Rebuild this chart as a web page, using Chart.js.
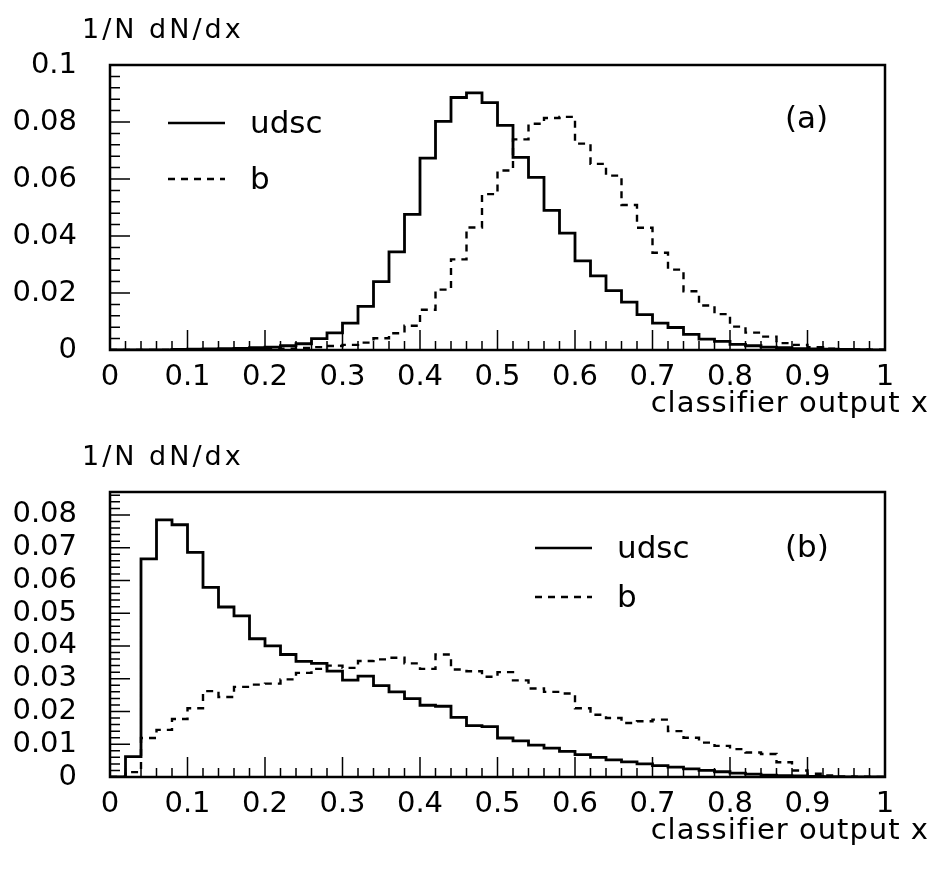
<!DOCTYPE html>
<html>
<head>
<meta charset="utf-8">
<script src="https://cdn.jsdelivr.net/npm/chart.js@4.4.1/dist/chart.umd.min.js"></script>
<style>
  html, body { margin: 0; padding: 0; background: #fff; }
  #wrap { position: relative; width: 937px; height: 875px; }
  canvas { position: absolute; left: 0; }
</style>
</head>
<body>
<div id="wrap">
  <canvas id="panelA" width="937" height="437" style="top:0"></canvas>
  <canvas id="panelB" width="937" height="438" style="top:437px"></canvas>
</div>
<script>
// histogram bins of width 0.02 on [0,1]
const binWidth = 0.02;

// panel (a)
const udscA = [0, 0, 0, 0, 0.0002, 0.0003, 0.0004, 0.0005, 0.0006, 0.0008,
  0.001, 0.0015, 0.0022, 0.004, 0.006, 0.0094, 0.0153, 0.024, 0.0344, 0.0476,
  0.0673, 0.0802, 0.0886, 0.0902, 0.0868, 0.0788, 0.0676, 0.0606, 0.049, 0.041,
  0.0313, 0.026, 0.0208, 0.0168, 0.0124, 0.0094, 0.0079, 0.0055, 0.0038, 0.003,
  0.002, 0.0015, 0.001, 0.0008, 0.0005, 0.0004, 0.0003, 0.0002, 0.0001, 0];
const bA = [0, 0, 0, 0, 0, 0, 0, 0, 0.0001, 0.0002,
  0.0003, 0.0005, 0.0007, 0.001, 0.0014, 0.0018, 0.0026, 0.0041, 0.0059, 0.0085,
  0.0141, 0.0212, 0.0318, 0.043, 0.0547, 0.063, 0.0739, 0.0794, 0.0814, 0.0818,
  0.0724, 0.0653, 0.0612, 0.0509, 0.0429, 0.0341, 0.0282, 0.0206, 0.0156, 0.0126,
  0.0082, 0.0061, 0.0047, 0.0024, 0.0018, 0.001, 0.0005, 0.0003, 0.0002, 0.0001];

// panel (b)
const udscB = [0, 0.0062, 0.0666, 0.0785, 0.077, 0.0686, 0.0579, 0.0519, 0.0492, 0.0422,
  0.04, 0.0374, 0.0353, 0.0347, 0.0323, 0.0296, 0.0308, 0.0279, 0.026, 0.0239,
  0.0219, 0.0216, 0.0182, 0.0157, 0.0154, 0.0119, 0.011, 0.0097, 0.0088, 0.0078,
  0.0068, 0.006, 0.0052, 0.0046, 0.004, 0.0035, 0.003, 0.0025, 0.002, 0.0016,
  0.0012, 0.0009, 0.0006, 0.0004, 0.0003, 0.0002, 0.0001, 0, 0, 0];
const bB = [0, 0.0015, 0.0119, 0.0144, 0.0177, 0.021, 0.0262, 0.0244, 0.0275, 0.0282,
  0.0285, 0.0298, 0.0318, 0.033, 0.034, 0.0333, 0.0354, 0.0359, 0.0364, 0.0347,
  0.033, 0.0374, 0.0328, 0.0323, 0.0306, 0.032, 0.0295, 0.027, 0.026, 0.0255,
  0.021, 0.019, 0.018, 0.0165, 0.017, 0.0175, 0.014, 0.012, 0.0105, 0.0095,
  0.0085, 0.0075, 0.007, 0.0045, 0.002, 0.001, 0.0005, 0.0002, 0.0001, 0];

// axes
const xTicks = [0, 0.1, 0.2, 0.3, 0.4, 0.5, 0.6, 0.7, 0.8, 0.9, 1];
const xTickLabels = ["0", "0.1", "0.2", "0.3", "0.4", "0.5", "0.6", "0.7", "0.8", "0.9", "1"];
const yTicksA = [0, 0.02, 0.04, 0.06, 0.08, 0.1];
const yTickLabelsA = ["0", "0.02", "0.04", "0.06", "0.08", "0.1"];
const yTicksB = [0, 0.01, 0.02, 0.03, 0.04, 0.05, 0.06, 0.07, 0.08];
const yTickLabelsB = ["0", "0.01", "0.02", "0.03", "0.04", "0.05", "0.06", "0.07", "0.08"];
const seriesNames = ["udsc", "b"];

const FONT = '"DejaVu Sans", sans-serif';

// bin contents -> points at left bin edges, closed at x = 1
function histPoints(vals) {
  const pts = [{ x: 0, y: 0 }];
  vals.forEach((v, i) => pts.push({ x: i * binWidth, y: v }));
  pts.push({ x: 1, y: vals[vals.length - 1] });
  return pts;
}

function minorTicks(step, max) {
  const out = [];
  for (let i = 1; i * step < max + 1e-9; i++) out.push(+(i * step).toFixed(4));
  return out;
}

// frame, inward ticks, labels and legend
const extras = {
  id: "extras",
  afterDraw(chart, args, o) {
    const { ctx, chartArea: a } = chart;
    const x = chart.scales.x, y = chart.scales.y;
    ctx.save();
    ctx.strokeStyle = "#000";
    ctx.lineWidth = 1.5;
    ctx.beginPath();
    minorTicks(0.02, 1).forEach(v => {
      const px = x.getPixelForValue(v);
      ctx.moveTo(px, a.bottom); ctx.lineTo(px, a.bottom - 9);
    });
    xTicks.forEach(v => {
      const px = x.getPixelForValue(v);
      ctx.moveTo(px, a.bottom); ctx.lineTo(px, a.bottom - 20);
    });
    minorTicks(o.yMinor, y.max).forEach(v => {
      const py = y.getPixelForValue(v);
      ctx.moveTo(a.left, py); ctx.lineTo(a.left + 10, py);
    });
    o.yMajor.forEach(v => {
      const py = y.getPixelForValue(v);
      ctx.moveTo(a.left, py); ctx.lineTo(a.left + 20, py);
    });
    ctx.stroke();

    ctx.lineWidth = 2.5;
    ctx.strokeRect(a.left, a.top, a.width, a.height);

    ctx.fillStyle = "#000";
    ctx.textBaseline = "alphabetic";
    ctx.font = "27px " + FONT;
    ctx.letterSpacing = "3px";
    ctx.fillText("1/N dN/dx", 82, a.top - 27);

    ctx.font = "29px " + FONT;
    ctx.letterSpacing = "1px";
    ctx.textAlign = "right";
    ctx.fillText("classifier output x", 929, a.bottom + 62);

    ctx.textAlign = "left";
    ctx.letterSpacing = "0px";
    ctx.font = "31px " + FONT;
    const L = o.legend;
    chart.data.datasets.forEach((ds, i) => {
      const ly = L.y + i * L.gap;
      ctx.lineWidth = 2.5;
      ctx.setLineDash(ds.borderDash || []);
      ctx.beginPath();
      ctx.moveTo(L.x, ly); ctx.lineTo(L.x + 57, ly);
      ctx.stroke();
      ctx.setLineDash([]);
      ctx.fillText(ds.label, L.x + 82, ly + 10);
    });
    ctx.fillText(o.tag, 785, a.top + o.tagDy);
    ctx.restore();
  }
};

function makePanel(id, udsc, b, yMax, yTicks, yLabels, yMinor, tag, legend, tagDy, canvasH, plotBottom) {
  return new Chart(document.getElementById(id), {
    type: "line",
    data: {
      datasets: [
        {
          label: seriesNames[0],
          data: histPoints(udsc),
          borderColor: "#000",
          borderWidth: 2.8,
          stepped: "before",
          pointRadius: 0,
          fill: false,
        },
        {
          label: seriesNames[1],
          data: histPoints(b),
          borderColor: "#000",
          borderWidth: 2.4,
          borderDash: [7, 6],
          stepped: "before",
          pointRadius: 0,
          fill: false,
        },
      ],
    },
    options: {
      responsive: false,
      animation: false,
      devicePixelRatio: 1,
      layout: { padding: { left: 0, right: 52, top: plotBottom - 285, bottom: 0 } },
      plugins: {
        legend: { display: false },
        tooltip: { enabled: false },
        extras: { yMajor: yTicks, yMinor: yMinor, tag: tag, legend: legend, tagDy: tagDy },
      },
      scales: {
        x: {
          type: "linear",
          min: 0,
          max: 1,
          grid: { display: false },
          border: { display: false },
          afterBuildTicks: s => { s.ticks = xTicks.map(v => ({ value: v })); },
          afterFit: s => { s.height = canvasH - plotBottom; },
          ticks: {
            autoSkip: false,
            maxRotation: 0,
            padding: 2,
            color: "#000",
            font: { family: FONT, size: 29 },
            callback: (v, i) => xTickLabels[i],
          },
        },
        y: {
          type: "linear",
          min: 0,
          max: yMax,
          grid: { display: false },
          border: { display: false },
          afterBuildTicks: s => { s.ticks = yTicks.map(v => ({ value: v })); },
          afterFit: s => { s.width = 110; },
          ticks: {
            autoSkip: false,
            padding: 25,
            color: "#000",
            font: { family: FONT, size: 29 },
            callback: (v, i) => yLabels[i],
          },
        },
      },
    },
    plugins: [extras],
  });
}

makePanel("panelA", udscA, bA, 0.1, yTicksA, yTickLabelsA, 0.004, "(a)",
  { x: 168, y: 123, gap: 56 }, 63, 437, 350);
makePanel("panelB", udscB, bB, 0.087, yTicksB, yTickLabelsB, 0.002, "(b)",
  { x: 535, y: 111, gap: 49 }, 65, 438, 340);
</script>
</body>
</html>
